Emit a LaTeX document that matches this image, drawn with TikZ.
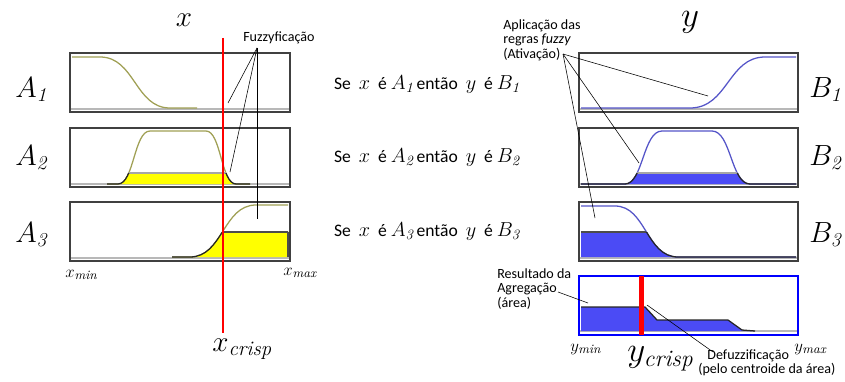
\documentclass[tikz,border=0pt]{standalone}
\usepackage{fontspec}
\newfontfamily\carlito{Carlito}
\usepackage{tikz}
\usetikzlibrary{calc}
\definecolor{mfolive}{RGB}{160,160,85}
\definecolor{mfblue}{RGB}{85,85,200}
\definecolor{mffill}{RGB}{75,75,245}
\definecolor{mfyellow}{RGB}{255,255,0}
\newcommand\rmath[1]{{\fontsize{14.5}{14}\selectfont$#1$}}

\begin{document}
\begin{tikzpicture}[
  x=0.025cm, y=-0.025cm,
  mfbox/.style={draw=black!75, line width=0.9pt},
  zeroline/.style={draw=black!28, line width=1.3pt},
  acurve/.style={draw=mfolive, line width=0.9pt},
  bcurve/.style={draw=mfblue, line width=0.9pt},
  lowcurve/.style={draw=black!85, line width=0.9pt},
  levelline/.style={draw=black!70, line width=0.8pt},
  note/.style={font=\carlito\fontsize{10}{10.6}\selectfont, align=left, inner sep=0pt},
  pointer/.style={draw=black, line width=0.4pt},
  rulelab/.style={font=\carlito\fontsize{12.5}{13}\selectfont, inner sep=0pt},
  setlab/.style={font=\fontsize{20}{20}\selectfont, inner sep=0pt, anchor=base west},
  axislab/.style={font=\fontsize{13}{13}\selectfont, inner sep=0pt, anchor=base west},
]
\useasboundingbox (0,0) rectangle (845,381);
% membership functions (pixel grid of the figure)
\def\pAone{(72,57) -- (100,57) .. controls (135,57) and (135,108) .. (170,108) -- (197,108)}
\def\pAtwo{(107,184) -- (118,184) .. controls (134,184) and (134,131) .. (150,131) -- (206,131) .. controls (221,131) and (221,184) .. (236,184) -- (250,184)}
\def\pAthree{(172,257) -- (190,257) .. controls (223,257) and (223,205) .. (256,205) -- (288,205)}
\def\pBone{(581,108) -- (690,108) .. controls (728,108) and (728,57) .. (765,57) -- (796,57)}
\def\pBtwo{(581,184) -- (625,184) .. controls (643,184) and (643,131) .. (662,131) -- (712,131) .. controls (731,131) and (731,184) .. (750,184) -- (796,184)}
\def\pBthree{(581,206) -- (615,206) .. controls (646,206) and (646,257) .. (678,257) -- (796,257)}
\def\pAgg{(581,307) -- (645,307) -- (657,320) -- (728,320) -- (742,330) -- (755,331)}

% frames and zero lines
\foreach \t in {53,128,202}{
  \draw[mfbox] (70,\t) rectangle (290,\t+59);
  \draw[mfbox] (579,\t) rectangle (798,\t+59);
  \draw[zeroline] (71,\t+56) -- (289,\t+56);
  \draw[zeroline] (580,\t+56) -- (797,\t+56);
}
\draw[draw=blue, line width=0.9pt] (579,276) rectangle (798,335);
\draw[zeroline] (580,331) -- (797,331);

% antecedents
\draw[acurve] \pAone;
\draw[acurve] \pAtwo;
\draw[acurve] \pAthree;
\begin{scope}
  \clip \pAtwo -- cycle;
  \fill[mfyellow] (70,173) rectangle (290,187);
  \draw[levelline, draw=black!35] (70,173) -- (290,173);
\end{scope}
\begin{scope}
  \clip \pAthree -- (288,257) -- cycle;
  \fill[mfyellow] (70,232) rectangle (290,261);
  \draw[levelline] (70,232) -- (290,232);
\end{scope}
\draw[levelline] (288,232) -- (288,257);
\begin{scope}
  \clip (70,173) rectangle (290,187);
  \draw[lowcurve] \pAtwo;
\end{scope}
\begin{scope}
  \clip (70,232) rectangle (290,261);
  \draw[lowcurve] \pAthree;
\end{scope}

% consequents
\draw[bcurve] \pBone;
\draw[bcurve] \pBtwo;
\draw[bcurve] \pBthree;
\begin{scope}
  \clip \pBtwo -- cycle;
  \fill[mffill] (579,173) rectangle (798,187);
  \draw[levelline, draw=black!35] (579,173) -- (798,173);
\end{scope}
\begin{scope}
  \clip \pBthree -- (581,257) -- cycle;
  \fill[mffill] (579,232) rectangle (798,261);
  \draw[levelline] (579,232) -- (798,232);
\end{scope}
\begin{scope}
  \clip (579,173) rectangle (798,187);
  \draw[lowcurve] \pBtwo;
\end{scope}
\begin{scope}
  \clip (579,232) rectangle (798,261);
  \draw[lowcurve] \pBthree;
\end{scope}

% aggregation
\fill[mffill] (581,331) -- \pAgg -- cycle;
\draw[lowcurve] \pAgg;

% crisp values
\coordinate (xtop) at (223,38);
\coordinate (xbot) at (223,333);
\draw[red, line width=0.9pt] (xtop) -- (xbot);
\coordinate (ytop) at (641.5,276);
\coordinate (ybot) at (641.5,335);
\draw[red, line width=3.6pt] (ytop) -- (ybot);

% set and axis labels
\node[font=\fontsize{22}{22}\selectfont, inner sep=0pt, anchor=base] (xvar) at (184,27) {$x$};
\node[font=\fontsize{24}{24}\selectfont, inner sep=0pt, anchor=base] (yvar) at (690,27) {$y$};
\foreach \i/\b in {1/97,2/165,3/242}{
  \node[setlab] (A\i) at (15,\b) {$A_{\mathit{\i}}$};
  \node[setlab] (B\i) at (809,\b) {$B_{\mathit{\i}}$};
}
\node[axislab] (xmin) at (65,277) {$x_{\mathit{min}}$};
\node[axislab] (xmax) at (283,275) {$x_{\mathit{max}}$};
\node[axislab] (ymin) at (570,351) {$y_{\mathit{min}}$};
\node[axislab] (ymax) at (794,351) {$y_{\mathit{max}}$};
\node[font=\fontsize{21}{21}\selectfont, inner sep=0pt, anchor=base west] (xcrisp) at (212,351) {$x_{\mathit{crisp}}$};
\node[font=\fontsize{24}{24}\selectfont, inner sep=0pt, anchor=base west] (ycrisp) at (627,361) {$y_{\mathit{crisp}}$};

% rules
\foreach \i/\yy in {1/85,2/158,3/232}{
  \node[rulelab] (rule\i) at (427,\yy) {Se\ \ \rmath{x}\ \ é \rmath{A_{\mathit{\i}}}\,então\ \ \rmath{y}\ \ é \rmath{B_{\mathit{\i}}}};
}

% annotations
\node[note, anchor=base west] (fuzz) at (243,42) {Fuzzyficação};
\coordinate (fzsrc) at (257,48);
\coordinate (fz1) at (228,103);
\coordinate (fz2) at (230,172);
\coordinate (fz3) at (257,219);
\foreach \e in {fz1,fz2,fz3}
  \draw[pointer] (fzsrc) -- (\e);

\node[note, anchor=north west] (activ) at (503,19) {Aplicação das\\regras \textit{fuzzy}\\(Ativação)};
\coordinate (acsrc) at (563,54);
\coordinate (ac1) at (708,96);
\coordinate (ac2) at (639,163);
\coordinate (ac3) at (595,218);
\foreach \e in {ac1,ac2,ac3}
  \draw[pointer] (acsrc) -- (\e);

\node[note, anchor=north west] (aggr) at (497,268) {Resultado da\\Agregação\\(área)};
\coordinate (agend) at (588,303);
\draw[pointer] (558,292) -- (agend);

\node[note, anchor=north west] (defz) at (698,349) {\hspace*{6.5pt}Defuzzificação\\(pelo centroide da área)};
\coordinate (dfend) at (647,305);
\draw[pointer] (dfend) -- ($(defz.north west)+(15,3)$);
\end{tikzpicture}
\end{document}
